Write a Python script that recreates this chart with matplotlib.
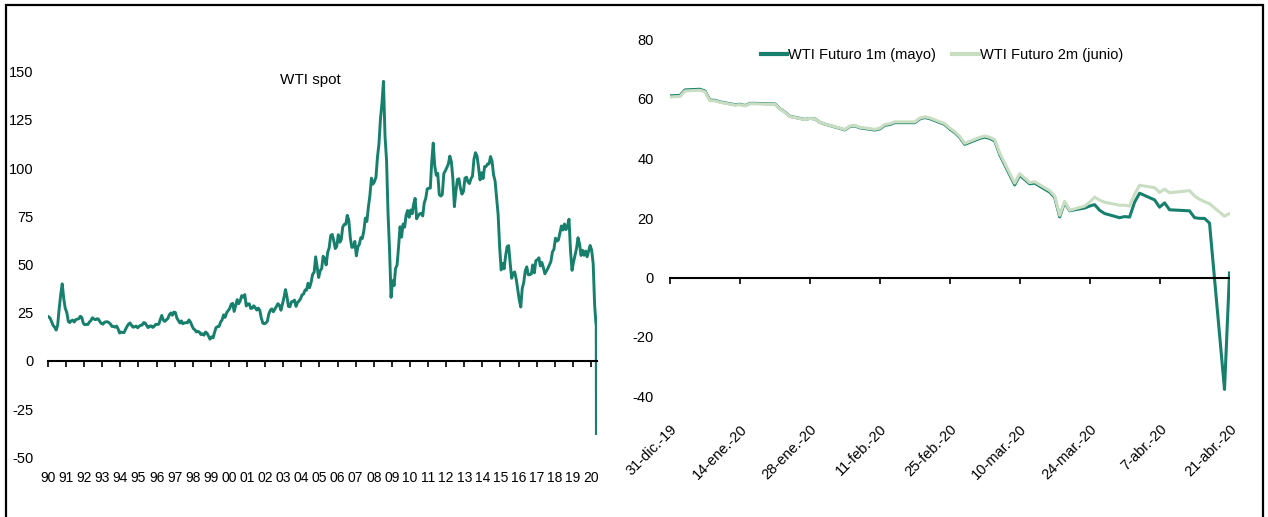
import matplotlib
matplotlib.use('Agg')
import matplotlib.pyplot as plt
import matplotlib.dates as mdates
import pandas as pd
from matplotlib.patches import Rectangle

# ---------------- data: WTI spot (monthly readings, USD/bbl) ----------------
wti_1990s = [
    22.9, 22.1, 20.4, 18.4, 17.5, 16.0, 18.6, 27.2, 34.5, 40.0, 32.3, 27.3,   # 1990
    25.2, 20.5, 19.9, 20.8, 21.2, 20.2, 21.4, 21.7, 21.9, 23.2, 22.5, 19.5,   # 1991
    18.8, 19.0, 18.9, 20.2, 20.9, 22.4, 21.8, 21.4, 21.9, 21.7, 20.3, 19.4,   # 1992
    19.1, 20.1, 20.3, 20.3, 19.9, 19.1, 17.9, 18.0, 17.5, 18.1, 16.7, 14.5,   # 1993
    15.0, 14.8, 14.7, 16.4, 17.9, 19.1, 19.7, 18.4, 17.5, 17.7, 18.1, 17.2,   # 1994
    18.0, 18.5, 18.6, 19.9, 19.7, 18.4, 17.3, 18.0, 18.2, 17.4, 18.0, 19.0,   # 1995
    18.9, 19.1, 21.4, 23.6, 21.3, 20.5, 21.3, 22.0, 24.0, 24.9, 23.7, 25.4,   # 1996
    25.1, 22.2, 21.0, 19.7, 20.8, 19.3, 19.7, 19.9, 19.8, 21.3, 20.2, 18.3,   # 1997
    16.7, 16.1, 15.0, 15.4, 14.9, 13.7, 14.1, 13.4, 15.0, 14.4, 12.9, 11.3,   # 1998
    12.5, 12.0, 14.7, 17.3, 17.8, 17.9, 20.1, 21.3, 23.9, 22.6, 25.0, 26.1,   # 1999
]
wti_2000s = [
    27.2, 29.4, 29.9, 25.7, 28.8, 31.8, 29.7, 31.2, 33.9, 33.1, 34.4, 28.5,   # 2000
    29.6, 29.6, 27.2, 27.4, 28.6, 27.6, 26.4, 27.4, 26.2, 22.2, 19.6, 19.3,   # 2001
    19.7, 20.7, 24.4, 26.3, 27.0, 25.5, 26.9, 28.4, 29.7, 28.9, 26.3, 29.4,   # 2002
    32.9, 37.0, 33.6, 28.3, 28.1, 30.7, 30.8, 31.6, 28.3, 30.3, 31.1, 32.2,   # 2003
    34.3, 34.7, 36.8, 36.7, 40.3, 38.0, 40.7, 44.9, 46.0, 54.0, 48.5, 43.3,   # 2004
    46.8, 48.0, 54.3, 53.0, 49.8, 56.3, 58.7, 65.0, 65.6, 62.4, 58.3, 59.4,   # 2005
    65.5, 61.6, 62.9, 69.4, 70.8, 70.9, 75.5, 73.0, 63.8, 58.9, 59.1, 62.0,   # 2006
    54.5, 59.3, 60.4, 64.0, 63.5, 67.5, 74.1, 72.4, 79.9, 85.8, 94.8, 91.7,   # 2007
    93.0, 95.4, 105.5, 112.6, 125.4, 133.9, 145.0, 116.7, 104.1, 76.6, 57.3, 33.0,  # 2008
    41.7, 39.1, 47.9, 49.7, 59.0, 69.6, 64.2, 71.0, 69.4, 75.7, 78.0, 74.5,   # 2009
]
wti_2010s = [
    78.3, 76.4, 81.2, 84.3, 73.7, 75.3, 76.3, 76.6, 75.2, 81.9, 84.3, 89.2,   # 2010
    89.6, 89.6, 102.9, 113.0, 101.3, 96.3, 97.3, 86.3, 85.5, 86.3, 97.2, 98.6,  # 2011
    100.3, 102.2, 106.2, 103.3, 94.7, 80.0, 87.9, 94.1, 94.5, 89.5, 86.5, 87.9,  # 2012
    94.8, 95.3, 92.9, 92.0, 94.5, 95.8, 104.6, 108.0, 106.3, 100.5, 93.9, 97.6,  # 2013
    94.6, 100.8, 100.8, 102.1, 102.2, 106.0, 103.6, 96.5, 93.2, 84.4, 75.8, 59.3,  # 2014
    47.2, 50.6, 47.8, 54.5, 59.3, 59.8, 50.9, 42.9, 45.5, 46.2, 42.4, 37.2,   # 2015
    31.7, 28.0, 37.5, 40.8, 46.7, 48.8, 44.7, 44.7, 45.2, 49.8, 45.7, 52.0,   # 2016
    52.5, 53.5, 49.3, 51.1, 48.5, 45.2, 46.6, 48.0, 49.8, 51.6, 56.6, 57.9,   # 2017
    63.7, 62.2, 62.7, 66.3, 70.0, 67.9, 71.0, 68.1, 70.2, 73.5, 57.0, 47.0,   # 2018
    51.4, 55.0, 58.2, 63.9, 60.8, 54.7, 57.4, 54.8, 57.0, 54.0, 57.0, 59.9,   # 2019
]
wti_2020 = [57.5, 50.5, 29.2, 20.3, 18.3, -37.6]
wti_2020_dates = ['2020-01-15', '2020-02-15', '2020-03-15',
                  '2020-04-08', '2020-04-17', '2020-04-20']

# ---------------- data: WTI futures (daily closes) ----------------
fut_holidays = ['2020-01-01', '2020-01-20', '2020-02-17', '2020-04-10']
fut_1m = [
    61.06,
    61.18, 63.05, 63.27, 62.70, 59.61, 59.56, 59.04, 58.08, 58.23, 57.81, 58.52,
    58.54, 58.34, 56.74, 55.59, 54.19, 53.14, 53.48, 53.33, 52.14, 51.56,
    50.11, 49.61, 50.75, 50.95, 50.32, 49.57, 49.94, 51.17, 51.42, 52.05,
    52.05, 53.29, 53.78, 53.38, 51.43, 49.90, 48.73, 47.09, 44.76,
    46.75, 47.18, 46.78, 45.90, 41.28, 31.13, 34.36, 32.98, 31.50, 31.73, 28.70,
    26.95, 20.37, 25.22, 22.43, 23.36, 24.01, 24.49, 22.60, 21.51, 20.09, 20.48,
    20.31, 25.32, 28.34, 26.08, 23.63, 25.09, 22.76, 22.41, 20.11, 19.87, 19.87,
    18.27, -37.63, 1.50,
]
fut_2m = [
    60.70,
    60.85, 62.70, 62.95, 62.45, 59.40, 59.40, 58.90, 57.95, 58.10, 57.70, 58.40,
    58.40, 58.20, 56.65, 55.50, 54.10, 53.10, 53.45, 53.30, 52.15, 51.60,
    50.20, 49.75, 50.90, 51.10, 50.50, 49.80, 50.20, 51.45, 51.70, 52.30,
    52.30, 53.55, 54.00, 53.65, 51.70, 50.20, 49.05, 47.40, 45.10,
    47.10, 47.55, 47.15, 46.30, 41.80, 31.70, 34.90, 33.40, 31.90, 32.20, 29.20,
    27.40, 20.90, 25.60, 22.60, 24.00, 25.30, 27.00, 26.00, 25.30, 24.30, 24.30,
    24.00, 28.00, 31.00, 30.20, 28.60, 29.70, 28.50, 29.20, 27.40, 26.30, 25.50,
    24.80, 20.60, 21.50,
]
fut_tick_labels = ['31-dic.-19', '14-ene.-20', '28-ene.-20', '11-feb.-20', '25-feb.-20',
                   '10-mar.-20', '24-mar.-20', '7-abr.-20', '21-abr.-20']
series_names = ['WTI Futuro 1m (mayo)', 'WTI Futuro 2m (junio)']
left_yticks = [-50, -25, 0, 25, 50, 75, 100, 125, 150]
right_yticks = [-40, -20, 0, 20, 40, 60, 80]

# ---------------- styling ----------------
plt.rcParams['font.family'] = ['Liberation Sans', 'DejaVu Sans']
plt.rcParams['axes.unicode_minus'] = False
DARK = '#17806d'
LIGHT = '#c9ddc2'

W, H = 1268, 517
fig = plt.figure(figsize=(W / 100, H / 100), dpi=100)
fig.patch.set_facecolor('white')

# ---------------- left panel ----------------
spot_dates = list(pd.date_range('1990-01-01', periods=360, freq='MS') + pd.Timedelta(days=14)) \
    + list(pd.to_datetime(wti_2020_dates))
spot_vals = wti_1990s + wti_2000s + wti_2010s + wti_2020

ax1 = fig.add_axes([48 / W, (H - 457.4) / H, (596.5 - 48) / W, (457.4 - 71.7) / H])
ax1.plot(spot_dates, spot_vals, color=DARK, lw=2.1, solid_joinstyle='round')
ax1.set_xlim(pd.Timestamp('1990-01-01'), pd.Timestamp('2020-04-22'))
ax1.set_ylim(-50, 150)
ax1.set_yticks(left_yticks)
ax1.xaxis.set_major_locator(mdates.YearLocator(1))
ax1.xaxis.set_major_formatter(mdates.DateFormatter('%y'))
for s in ['top', 'right', 'left']:
    ax1.spines[s].set_visible(False)
ax1.spines['bottom'].set_position(('data', 0))
ax1.spines['bottom'].set_linewidth(1.5)
ax1.tick_params(axis='x', direction='out', length=4, width=1.2, pad=75, labelsize=10)
ax1.tick_params(axis='y', left=False, pad=7, labelsize=10.5)
ax1.set_facecolor('none')
fig.text(310 / W, 1 - 80 / H, 'WTI spot', ha='center', va='center', fontsize=11)

# ---------------- right panel ----------------
fut_dates = pd.bdate_range('2019-12-31', '2020-04-21', freq='C', holidays=fut_holidays)
assert len(fut_dates) == len(fut_1m) == len(fut_2m)

ax2 = fig.add_axes([670 / W, (H - 396.5) / H, (1229.5 - 670) / W, (396.5 - 39.5) / H])
ax2.plot(fut_dates, fut_1m, color=DARK, lw=2.2, label=series_names[0])
ax2.plot(fut_dates, fut_2m, color=LIGHT, lw=2.2, label=series_names[1])
ax2.set_xlim(pd.Timestamp('2019-12-31'), pd.Timestamp('2020-04-21'))
ax2.set_ylim(-40, 80)
ax2.set_yticks(right_yticks)
tick_pos = pd.date_range('2019-12-31', periods=len(fut_tick_labels), freq='14D')
ax2.set_xticks(tick_pos, labels=fut_tick_labels)
for s in ['top', 'right', 'left']:
    ax2.spines[s].set_visible(False)
ax2.spines['bottom'].set_position(('data', 0))
ax2.spines['bottom'].set_linewidth(1.5)
ax2.tick_params(axis='x', direction='out', length=4, width=1.2, pad=100,
                labelsize=10.5, labelrotation=45)
ax2.tick_params(axis='y', left=False, pad=8, labelsize=10.5)
plt.setp(ax2.get_xticklabels(), ha='right', va='top', rotation_mode='anchor')
ax2.set_facecolor('none')

leg = fig.legend(loc='center', bbox_to_anchor=(942 / W, 1 - 55 / H), ncol=2, frameon=False,
                 fontsize=10.5, handlelength=1.8, handletextpad=0.1, columnspacing=1.1)
for line in leg.get_lines():
    line.set_linewidth(3)

# ---------------- outer frame ----------------
fig.add_artist(Rectangle((6 / W, -0.02), (1262.5 - 6) / W, 1 - 4.5 / H + 0.02,
                         transform=fig.transFigure, fill=False, ec='black', lw=1.6,
                         clip_on=False))

fig.savefig('out.png', dpi=100)
